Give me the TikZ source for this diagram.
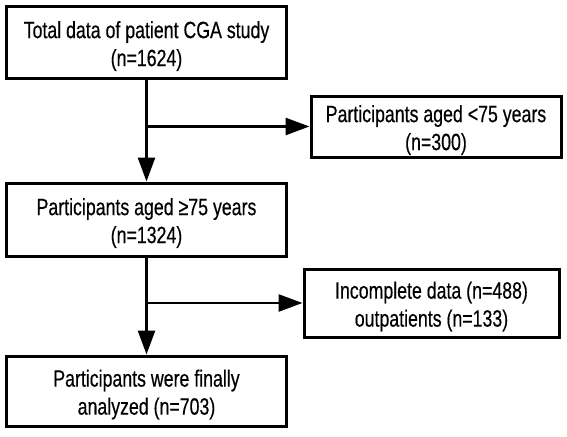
\documentclass[tikz,border=0pt]{standalone}
\usepackage{fontspec}
\setmainfont[FakeStretch=0.755,FakeBold=0.4]{Liberation Sans}
\usetikzlibrary{arrows.meta}
\newcommand{\twolines}[2]{\raisebox{-4pt}[\height][\depth]{\begin{tabular}{@{}c@{}}#1\\#2\end{tabular}}}
\begin{document}
\begin{tikzpicture}[x=1pt,y=-1pt,
  box/.style={draw=black, line width=3pt, fill=white,
    font=\fontsize{23.5}{28}\selectfont, inner sep=0pt},
  arr/.style={line width=2.6pt, -{Triangle[length=24pt,width=17pt]}}]
\useasboundingbox (0,0) rectangle (567,436);
\node[box, minimum width=280pt, minimum height=72pt] (b1) at (146.5,42.5) {\twolines{Total data of patient CGA study}{(n=1624)}};
\node[box, minimum width=250pt, minimum height=61pt] (b2) at (436,126.5) {\twolines{Participants aged <75 years}{(n=300)}};
\node[box, minimum width=280pt, minimum height=73pt] (b3) at (146.5,219.5) {\twolines{Participants aged ≥75 years}{(n=1324)}};
\node[box, minimum width=255pt, minimum height=68pt] (b4) at (431.5,303) {\twolines{Incomplete data (n=488)}{outpatients (n=133)}};
\node[box, minimum width=280pt, minimum height=70pt] (b5) at (146.5,391) {\twolines{Participants were finally}{analyzed (n=703)}};
\coordinate (j1) at (147.5,126.5);
\coordinate (j2) at (147.5,303);
\draw[arr] (b1.south) -- (b3.north);
\draw[arr] (j1) -- (b2.west);
\draw[arr] (b3.south) -- (b5.north);
\draw[arr] (j2) -- (b4.west);
\end{tikzpicture}
\end{document}
